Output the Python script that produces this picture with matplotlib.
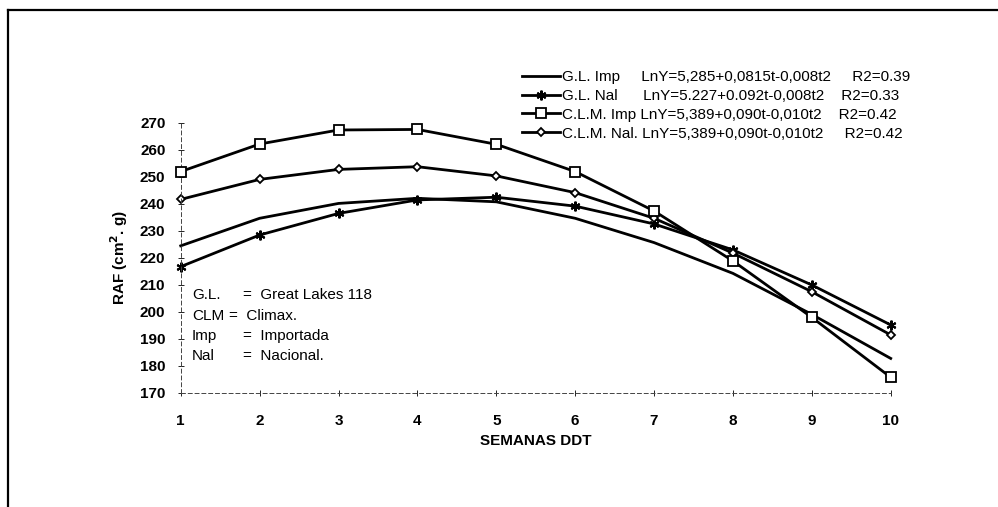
import numpy as np
import matplotlib.pyplot as plt
from matplotlib.lines import Line2D

plt.rcParams['font.family'] = ['Liberation Sans', 'DejaVu Sans']

# Semanas despues del trasplante
semanas = [1, 2, 3, 4, 5, 6, 7, 8, 9, 10]

# RAF (cm2 . g) por tratamiento
gl_imp = [224.4, 234.6, 240.1, 242.0, 240.7, 234.6, 225.6, 214.2, 199.0, 182.7]
gl_nal = [216.7, 228.4, 236.4, 241.4, 242.4, 239.1, 232.5, 222.9, 209.9, 195.1]
clm_imp = [251.9, 262.1, 267.3, 267.5, 262.0, 251.9, 237.3, 218.8, 197.9, 175.7]
clm_nal = [241.6, 249.0, 252.7, 253.7, 250.3, 244.1, 234.6, 221.7, 207.4, 191.4]

labels = [
    'G.L. Imp     LnY=5,285+0,0815t-0,008t2     R2=0.39',
    'G.L. Nal      LnY=5.227+0.092t-0,008t2    R2=0.33',
    'C.L.M. Imp LnY=5,389+0,090t-0,010t2    R2=0.42',
    'C.L.M. Nal. LnY=5,389+0,090t-0,010t2     R2=0.42',
]
abrev = ['G.L.', 'CLM', 'Imp', 'Nal']
defin = ['=  Great Lakes 118', '=  Climax.', '=  Importada', '=  Nacional.']

yticks = [170, 180, 190, 200, 210, 220, 230, 240, 250, 260, 270]

fig = plt.figure(figsize=(9.98, 5.07), dpi=100)
ax = fig.add_axes([0.1811, 0.2254, 0.7114, 0.5326])

lw = 2.0
ax.plot(semanas, gl_imp, color='black', lw=lw, label=labels[0], clip_on=False)
ax.plot(semanas, gl_nal, color='black', lw=lw, marker=(6, 2, 0), ms=7, mew=1.5,
        label=labels[1], clip_on=False)
ax.plot(semanas, clm_imp, color='black', lw=lw, marker='s', ms=7, mfc='white',
        mew=1.3, label=labels[2], clip_on=False, zorder=3)
ax.plot(semanas, clm_nal, color='black', lw=lw, marker='D', ms=4.5, mfc='white',
        mew=1.3, label=labels[3], clip_on=False)

ax.set_xlim(1, 10)
ax.set_ylim(170, 270)
ax.set_xticks(semanas)
ax.set_yticks(yticks)
ax.tick_params(axis='both', direction='inout', length=4, width=0.6,
               labelsize=11, colors='black')
ax.tick_params(axis='x', pad=13)
ax.tick_params(axis='y', pad=9)
for lab in ax.get_xticklabels() + ax.get_yticklabels():
    lab.set_fontweight('bold')

for s in ['top', 'right']:
    ax.spines[s].set_visible(False)
for s in ['left', 'bottom']:
    ax.spines[s].set_linestyle((0, (4, 3)))
    ax.spines[s].set_linewidth(0.7)
    ax.spines[s].set_color('#444444')

ax.set_xlabel('SEMANAS DDT', fontsize=11, fontweight='bold', labelpad=5)
ax.set_ylabel('RAF (cm$^\\mathbf{2}$. g)', fontsize=11, fontweight='bold', labelpad=7)

leg = fig.legend(loc='upper left', bbox_to_anchor=(0.523, 0.862), frameon=False,
                 fontsize=11, handlelength=2.5, handletextpad=0.1,
                 labelspacing=0.32, borderpad=0, borderaxespad=0)

xs_def = [243, 229, 243, 243]
for i in range(4):
    y = 1 - (295 + 20.5 * i) / 507
    fig.text(192 / 998, y, abrev[i], fontsize=11, va='center', ha='left')
    fig.text(xs_def[i] / 998, y, defin[i], fontsize=11, va='center', ha='left')

# marco de la figura
fig.add_artist(Line2D([8 / 998, 8 / 998], [0, 1 - 10 / 507], color='black', lw=1.6))
fig.add_artist(Line2D([8 / 998, 1], [1 - 10 / 507, 1 - 10 / 507], color='black', lw=1.6))

fig.savefig('out.png', dpi=100)
